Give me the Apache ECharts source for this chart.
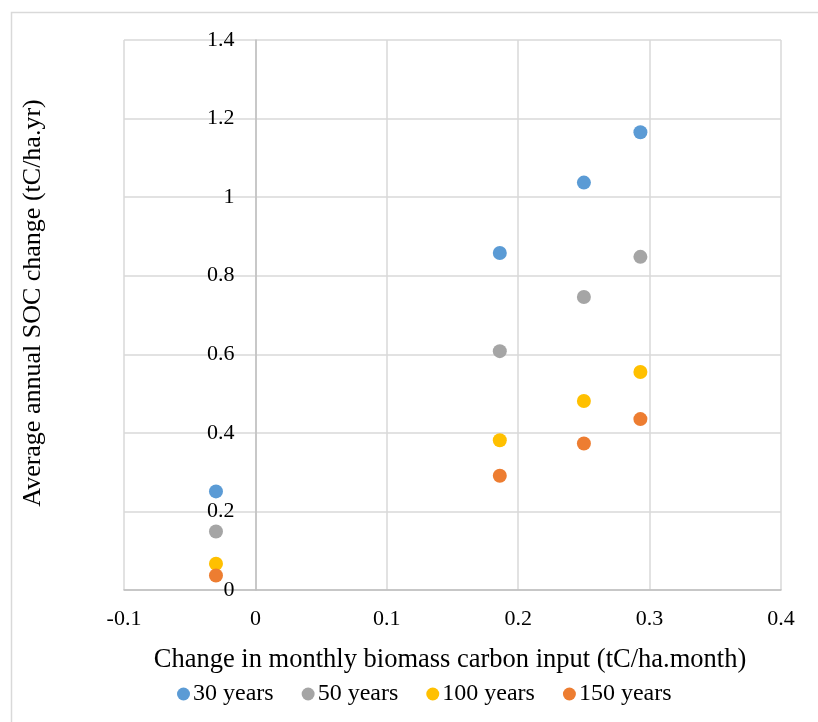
<!DOCTYPE html>
<html>
<head>
<meta charset="utf-8">
<script src="https://cdn.jsdelivr.net/npm/echarts@6/dist/echarts.min.js"></script>
<style>
  html, body { margin: 0; padding: 0; background: #fff; }
  #chart { width: 818px; height: 722px; }
</style>
</head>
<body>
<div id="chart"></div>
<script>
// Change in monthly biomass carbon input (tC/ha.month)
const xValues = [-0.03, 0.186, 0.25, 0.293];
// Average annual SOC change (tC/ha.yr) per simulation horizon
const seriesNames = ['30 years', '50 years', '100 years', '150 years'];
const soc30 = [0.251, 0.858, 1.037, 1.165];
const soc50 = [0.149, 0.608, 0.746, 0.848];
const soc100 = [0.067, 0.381, 0.481, 0.555];
const soc150 = [0.037, 0.291, 0.373, 0.435];
const seriesValues = [soc30, soc50, soc100, soc150];
const colors = ['#5B9BD5', '#A5A5A5', '#FFC000', '#ED7D31'];

const xTitle = 'Change in monthly biomass carbon input (tC/ha.month)';
const yTitle = 'Average annual SOC change (tC/ha.yr)';

// x range; the vertical axis crosses at x = 0
const xMin = -0.1, xMax = 0.4;

const font = '"Liberation Serif", "Times New Roman", serif';
const gridLeft = 124, gridRight = 37;
const plotWidth = 818 - gridLeft - gridRight;
// shift the y axis (line and labels) from the left edge to x = 0
const yAxisShift = -plotWidth * (0 - xMin) / (xMax - xMin);

const chart = echarts.init(document.getElementById('chart'), null, { renderer: 'canvas' });

chart.setOption({
  animation: false,
  backgroundColor: '#ffffff',
  textStyle: { fontFamily: font, color: '#000' },
  graphic: [
    {
      type: 'rect',
      left: 9, top: 10,
      shape: { width: 840, height: 740 },
      style: { fill: 'none', stroke: '#D9D9D9', lineWidth: 1.5 },
      silent: true
    },
    {
      type: 'text',
      x: 450, y: 660,
      style: {
        text: xTitle, fill: '#000',
        font: '26.5px ' + font,
        align: 'center', verticalAlign: 'middle'
      },
      silent: true
    },
    {
      type: 'text',
      x: 33, y: 303,
      rotation: Math.PI / 2,
      style: {
        text: yTitle, fill: '#000',
        font: '26px ' + font,
        align: 'center', verticalAlign: 'middle'
      },
      silent: true
    }
  ],
  grid: { left: gridLeft, right: gridRight, top: 40, bottom: 132, containLabel: false, outerBoundsMode: 'none' },
  legend: {
    top: 677,
    left: 172,
    itemWidth: 13, itemHeight: 13,
    itemGap: 28,
    icon: 'circle',
    textStyle: { fontFamily: font, fontSize: 24, color: '#000', padding: [0, 0, 0, -2] },
    data: seriesNames
  },
  xAxis: {
    type: 'value',
    min: xMin, max: xMax, interval: 0.1,
    axisLine: { show: true, lineStyle: { color: '#BFBFBF', width: 1.5 } },
    axisTick: { show: false },
    axisLabel: { fontFamily: font, fontSize: 22, color: '#000', margin: 18 },
    splitLine: { show: true, lineStyle: { color: '#D9D9D9', width: 1.5 } }
  },
  yAxis: {
    type: 'value',
    min: 0, max: 1.4, interval: 0.2,
    offset: yAxisShift,
    axisLine: { show: true, onZero: false, lineStyle: { color: '#BFBFBF', width: 1.5 } },
    axisTick: { show: false },
    axisLabel: { fontFamily: font, fontSize: 22, color: '#000', margin: 21 },
    splitLine: { show: true, lineStyle: { color: '#D9D9D9', width: 1.5 } }
  },
  series: seriesNames.map((name, i) => ({
    name: name,
    type: 'scatter',
    symbol: 'circle',
    symbolSize: 14,
    itemStyle: { color: colors[i], opacity: 1 },
    data: xValues.map((x, j) => [x, seriesValues[i][j]])
  }))
});
</script>
</body>
</html>
